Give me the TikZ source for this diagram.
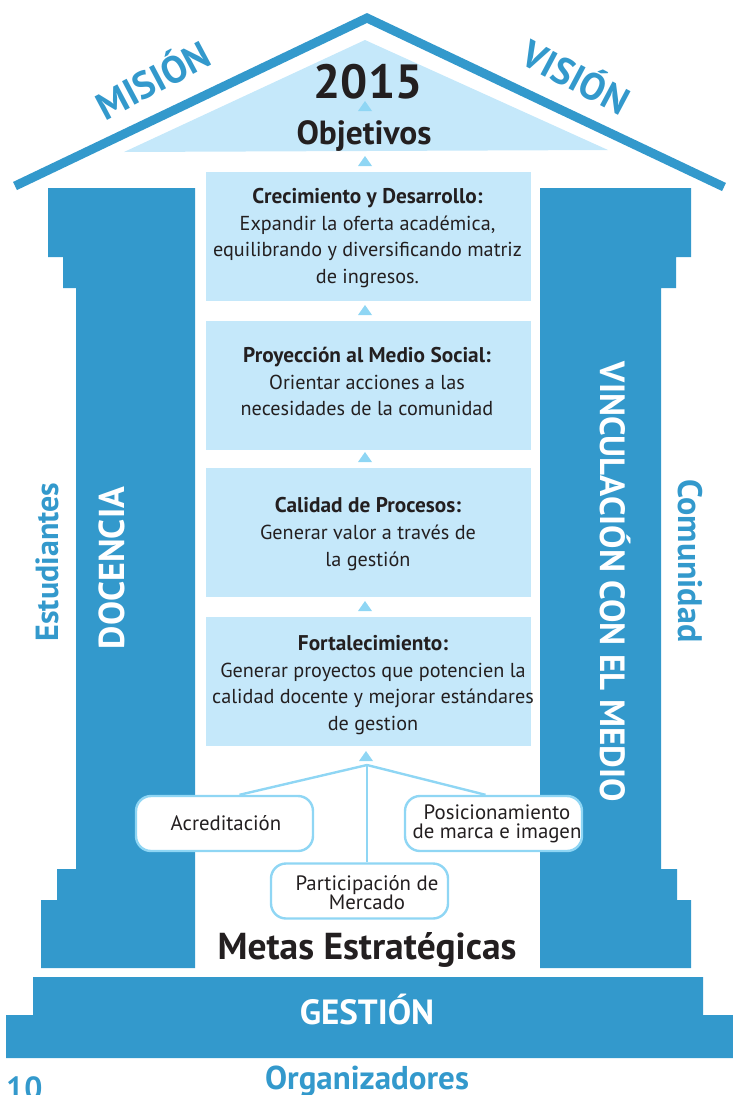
\documentclass[tikz,border=0pt]{standalone}
\usepackage{fontspec}
\setmainfont{PT Sans}
\definecolor{mainblue}{HTML}{3399CC}
\definecolor{palefill}{HTML}{C5E8FA}
\definecolor{tipblue}{HTML}{8FD6F4}
\definecolor{inkblack}{HTML}{231F20}
\newcommand{\tip}[2]{\fill[tipblue] (#1-7,#2+5) -- (#1,#2-5) -- (#1+7,#2+5) -- cycle;}
\newcommand{\hd}[1]{{\bfseries\fontsize{21.3}{26.8}\selectfont #1}}
\tikzset{
  panel/.style={fill=palefill,draw=none,minimum width=325,minimum height=129,inner sep=0,outer sep=0},
  body/.style={text=inkblack,align=center,font=\fontsize{20.2}{26.8}\selectfont,inner sep=0},
  goalbox/.style={draw=tipblue,line width=2.4,fill=white,rounded corners=15,minimum width=177,minimum height=55,inner sep=0,outer sep=1.2},
  goaltext/.style={text=inkblack,align=center,font=\fontsize{20.8}{19}\selectfont,inner sep=0},
  link/.style={draw=tipblue,line width=2.4},
  bluelabel/.style={text=mainblue,font=\bfseries\fontsize{32}{32}\selectfont,inner sep=0},
  whitelabel/.style={text=white,font=\bfseries\fontsize{35}{35}\selectfont,inner sep=0},
  heading/.style={text=inkblack,font=\bfseries,inner sep=0}
}
\begin{document}
\begin{tikzpicture}[x=1pt,y=-1pt]
\useasboundingbox (0,0) rectangle (733,1095);
% columns
\fill[mainblue] (48,188) -- (195,188) -- (195,968) -- (41,968) -- (41,900) -- (57,900) -- (57,869) -- (76,869) -- (76,288) -- (63,288) -- (63,257) -- (48,257) -- cycle;
\fill[mainblue] (540,188) -- (691,188) -- (691,257) -- (676,257) -- (676,288) -- (661,288) -- (661,869) -- (677,869) -- (677,900) -- (691,900) -- (691,968) -- (540,968) -- cycle;
% base
\fill[mainblue] (33,977) -- (703,977) -- (703,1015) -- (733,1015) -- (733,1058) -- (6,1058) -- (6,1015) -- (33,1015) -- cycle;
% roof
\draw[mainblue,line width=9] (15,186) -- (367,18) -- (724,187);
\fill[palefill] (124,152) -- (365,40) -- (608,150) -- cycle;
% panels
\node[panel] (crec) at (368.5,236.5) {};
\node[panel] (proy) at (368.5,385.5) {};
\node[panel] (cali) at (368.5,532.5) {};
\node[panel] (fort) at (368.5,681.5) {};
\node[body] (tcrec) at (367.5,238) {\hd{Crecimiento y Desarrollo:}\\Expandir la oferta académica,\\equilibrando y diversificando matriz\\de ingresos.};
\node[body] (tproy) at (367,381.5) {\hd{Proyección al Medio Social:}\\Orientar acciones a las\\necesidades de la comunidad};
\node[body] (tcali) at (368,534) {\hd{Calidad de Procesos:}\\Generar valor a través de\\la gestión};
\node[body] (tfort) at (373,685) {\hd{Fortalecimiento:}\\Generar proyectos que potencien la\\calidad docente y mejorar estándares\\de gestion};
% tips
\tip{365}{106}\tip{365}{161}\tip{365}{310}\tip{365}{457}\tip{365}{606}\tip{366}{756}
% titles
\node[heading,font=\bfseries\fontsize{48}{48}\selectfont] (year) at (368,82) {2015};
\node[heading,font=\bfseries\fontsize{33.5}{33.5}\selectfont] (obj) at (364,136) {Objetivos};
\node[heading,font=\bfseries\fontsize{37.5}{37.5}\selectfont] (metas) at (367,950) {Metas Estratégicas};
\node[bluelabel,rotate=28,font=\bfseries\fontsize{38}{38}\selectfont] (mision) at (152,78) {MISIÓN};
\node[bluelabel,rotate=-28,font=\bfseries\fontsize{38}{38}\selectfont] (vision) at (577,75) {VISIÓN};
\node[bluelabel] at (47,562) [rotate=90] (estu) {Estudiantes};
\node[bluelabel,rotate=-90,font=\bfseries\fontsize{34}{34}\selectfont] (comu) at (690,561) {Comunidad};
\node[whitelabel,rotate=90,font=\bfseries\fontsize{36}{36}\selectfont] (doce) at (112,568) {DOCENCIA};
\node[whitelabel,rotate=-90] (vinc) at (615,582) {VINCULACIÓN CON EL MEDIO};
\node[whitelabel] (gest) at (367,1010) {GESTIÓN};
\node[bluelabel,font=\bfseries\fontsize{33}{33}\selectfont] (orga) at (367,1081) {Organizadores};
\node[bluelabel,anchor=west] (page) at (6,1088) {10};
% goals
\coordinate (hub) at (367,765);
\node[goalbox] (acre) at (224.5,823.5) {};
\node[goalbox] (posi) at (493.5,823.5) {};
\node[goalbox] (part) at (359.5,891) {};
\node[goaltext] (tacre) at (226,823) {Acreditación};
\node[goaltext] (tposi) at (497,824) {Posicionamiento\\de marca e imagen};
\node[goaltext] (tpart) at (367,893) {Participación de\\Mercado};
\draw[link] (hub) -- ([xshift=15]acre.north);
\draw[link] (hub) -- ([xshift=-8]posi.north);
\draw[link] (hub) -- (hub |- part.north);
\end{tikzpicture}
\end{document}
